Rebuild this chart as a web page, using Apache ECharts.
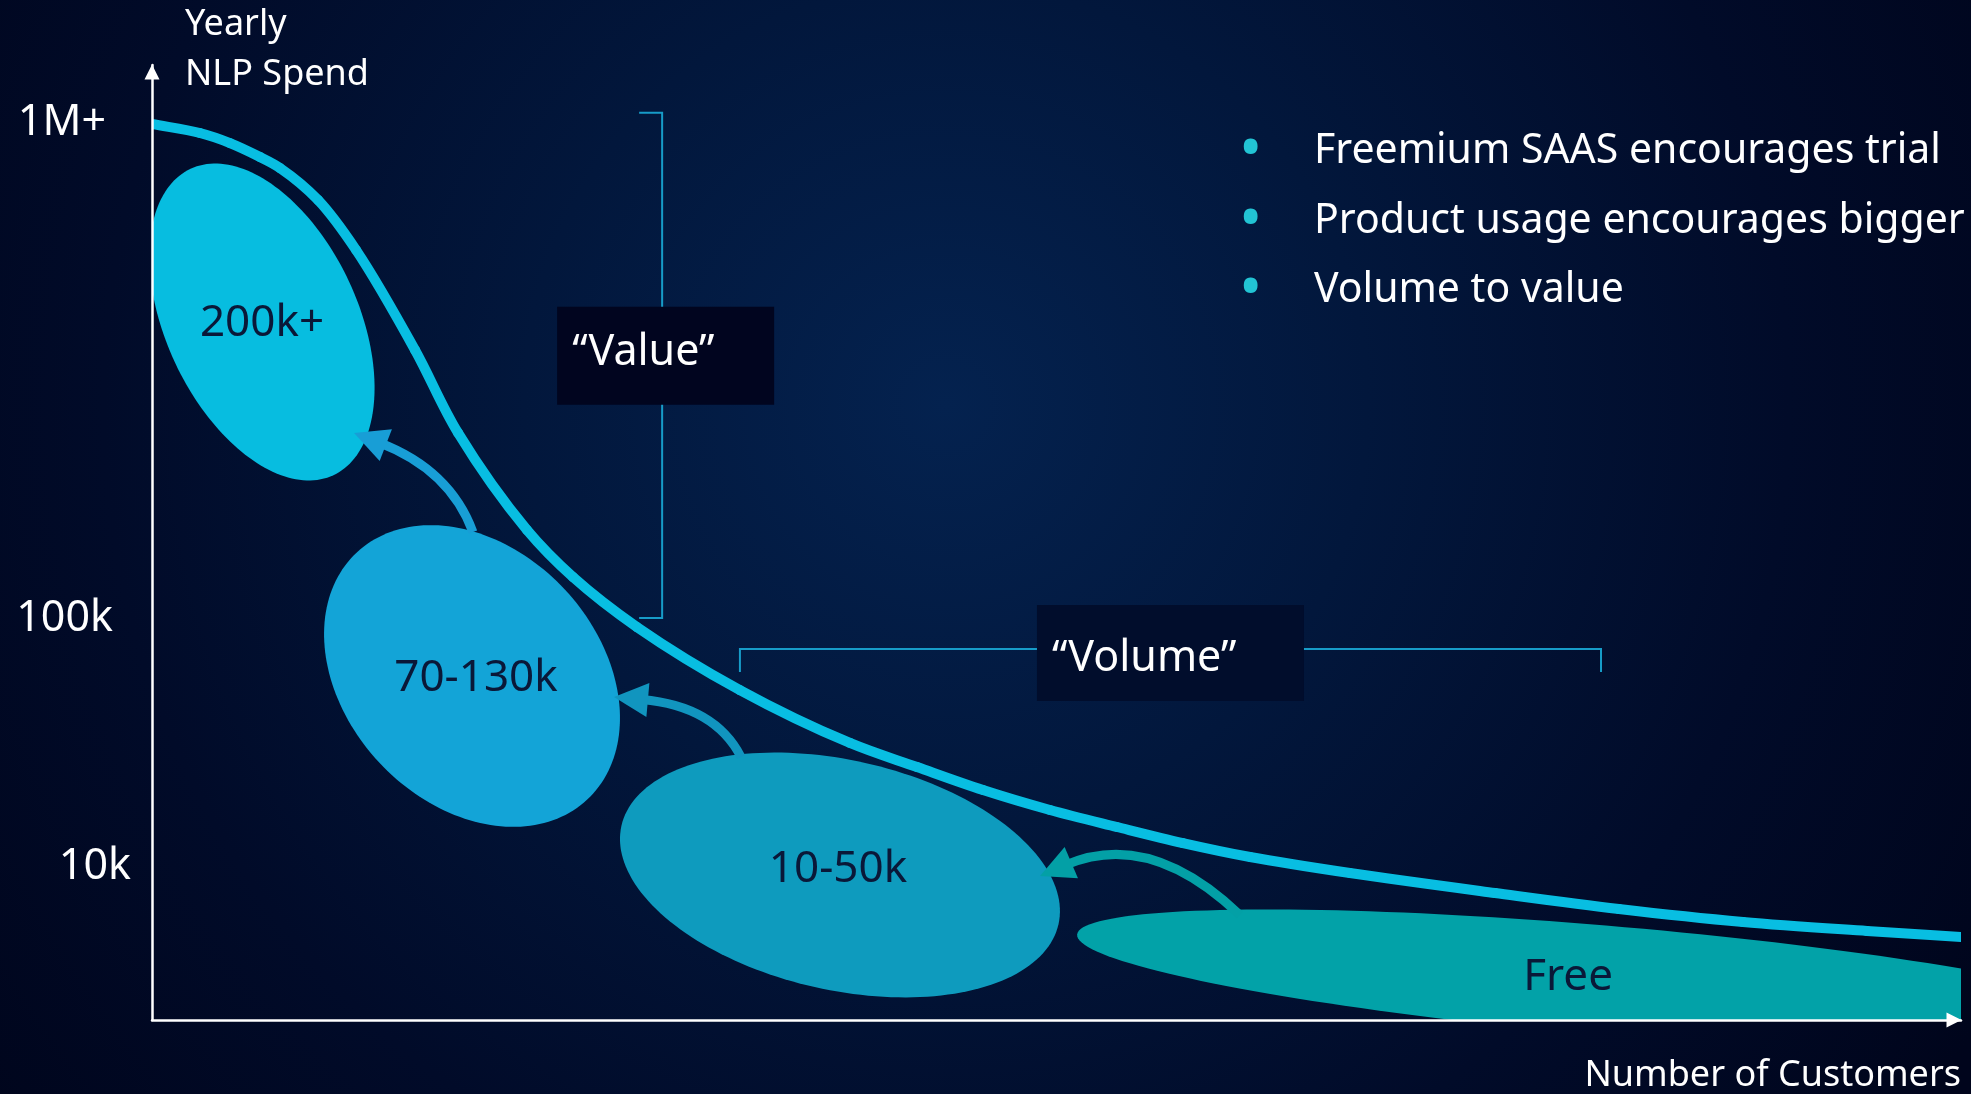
<!DOCTYPE html>
<html>
<head>
<meta charset="utf-8">
<script src="https://cdn.jsdelivr.net/npm/echarts@6/dist/echarts.min.js"></script>
<style>
html,body{margin:0;padding:0;background:#000a24;overflow:hidden;}
#c{width:1971px;height:1094px;}
</style>
</head>
<body>
<div id="c"></div>
<script>
// ---------------- data ----------------
// y axis: relative position units; labelled ticks
const yTickValues = [16, 42, 94];
const yTickLabels = ['10k', '100k', '1M+'];

// spend curve (x = number of customers, y = yearly spend position)
const curveX = [0, 2.65, 4.31, 5.97, 7.08, 9.18, 11.28, 14.54, 16.92, 20.73, 23.27, 26.81, 32.50, 38.58, 42.29, 45.94, 49.64, 53.34, 56.99, 60.70, 66.22, 74.24, 81.09, 87.95, 94.80, 100];
const curveY = [93.82, 92.88, 91.83, 90.37, 89.21, 85.86, 80.63, 70.16, 61.47, 51.31, 46.39, 41.15, 34.55, 29.01, 26.49, 24.08, 21.99, 20.21, 18.53, 17.07, 15.39, 13.30, 11.62, 10.26, 9.32, 8.69];

// customer segments (ellipses): ends of the long axis, width ratio, label anchor
const segmentNames = ['200k+', '70-130k', '10-50k', 'Free'];
const segStartX = [2.13, 11.32, 25.95, 51.14];
const segStartY = [89.13, 48.96, 20.34, 8.95];
const segEndX = [10.03, 24.06, 50.11, 111.16];
const segEndY = [57.05, 23.08, 10.03, -0.99];
const segWidthRatio = [0.568, 0.751, 0.513, 0.101];
const segLabelX = [6.08, 17.91, 37.92, 78.28];
const segLabelY = [72.98, 35.81, 15.81, 4.50];

// upgrade arrows: from -> via (control) -> to
const arrowFromX = [17.74, 32.56, 60.14];
const arrowFromY = [51.10, 27.54, 10.99];
const arrowViaX = [16.47, 31.12, 55.17];
const arrowViaY = [57.59, 32.88, 20.00];
const arrowToX = [11.17, 25.54, 49.09];
const arrowToY = [61.47, 33.82, 15.08];

// brackets
const bracketNames = ['\u201CValue\u201D', '\u201CVolume\u201D'];
const bracketX1 = [28.2, 32.5];
const bracketY1 = [95.0, 38.85];
const bracketX2 = [28.2, 80.1];
const bracketY2 = [42.1, 38.85];

// bullet notes
const bullets = ['Freemium SAAS encourages trial', 'Product usage encourages bigger spend', 'Volume to value'];

// ---------------- styles ----------------
const FONT = '"Noto Sans", "Open Sans", sans-serif';
const curveColor = '#08BEE2';
const segColors = ['#07BDE0', '#13A4D7', '#0E9BBE', '#02A2A8'];
const arrowColors = ['#189ED6', '#1195BF', '#03A0A6'];
const bracketBox = [[217, 98], [267, 96]];
const bracketBoxShift = [[3.5, -9.5], [0, 4]];
const bracketTextShift = [-3.5, 6];
const bracketBoxColors = ['#01051f', '#010d2c'];
const tickRich = {
  t: { padding: [0, 0, 0, 0] },
  h: { padding: [0, 18, 0, 0] },
  m: { padding: [0, 25, 0, 0] }
};
const tickKeys = ['t', 'h', 'm'];

const chart = echarts.init(document.getElementById('c'), null, { renderer: 'canvas' });

// centripetal Catmull-Rom segment (in pixel space) between points i and i+1
function curveSegment(api, i) {
  const n = curveX.length;
  const P = k => api.coord([curveX[k], curveY[k]]);
  const p1 = P(i), p2 = P(i + 1);
  const p0 = i > 0 ? P(i - 1) : [2 * p1[0] - p2[0], 2 * p1[1] - p2[1]];
  const p3 = i < n - 2 ? P(i + 2) : [2 * p2[0] - p1[0], 2 * p2[1] - p1[1]];
  const d1 = Math.sqrt(Math.hypot(p1[0] - p0[0], p1[1] - p0[1]));
  const d2 = Math.sqrt(Math.hypot(p2[0] - p1[0], p2[1] - p1[1]));
  const d3 = Math.sqrt(Math.hypot(p3[0] - p2[0], p3[1] - p2[1]));
  const b1 = [0, 1].map(j => (d1 * d1 * p2[j] - d2 * d2 * p0[j] + (2 * d1 * d1 + 3 * d1 * d2 + d2 * d2) * p1[j]) / (3 * d1 * (d1 + d2)));
  const b2 = [0, 1].map(j => (d3 * d3 * p1[j] - d2 * d2 * p3[j] + (2 * d3 * d3 + 3 * d3 * d2 + d2 * d2) * p2[j]) / (3 * d3 * (d3 + d2)));
  return { x1: p1[0], y1: p1[1], cpx1: b1[0], cpy1: b1[1], cpx2: b2[0], cpy2: b2[1], x2: p2[0], y2: p2[1] };
}

const option = {
  backgroundColor: {
    type: 'radial', x: 0.48, y: 0.37, r: 1.1,
    colorStops: [
      { offset: 0, color: '#04224f' },
      { offset: 0.35, color: '#02173c' },
      { offset: 0.7, color: '#010b29' },
      { offset: 1, color: '#00051c' }
    ]
  },
  animation: false,
  textStyle: { fontFamily: FONT },
  title: [
    {
      text: 'Yearly\nNLP Spend', left: 185, top: 0, padding: 0, textAlign: 'left',
      textStyle: { color: '#ffffff', fontSize: 36, fontWeight: 'normal', fontFamily: FONT, lineHeight: 50 }
    },
    {
      text: 'Number of Customers', right: 10, top: 1054, padding: 0,
      textStyle: { color: '#ffffff', fontSize: 36, fontWeight: 'normal', fontFamily: FONT, lineHeight: 44 }
    },
    {
      text: bullets.map(b => '{d|\u2022}{t|' + b + '}').join('\n'),
      left: 1239, top: 117, padding: 0, textAlign: 'left',
      textStyle: {
        fontFamily: FONT, fontWeight: 'normal', align: 'left',
        rich: {
          d: { color: '#22C4D4', fontSize: 62, width: 75, align: 'left', lineHeight: 69.5, fontFamily: FONT },
          t: { color: '#ffffff', fontSize: 41, lineHeight: 69.5, align: 'left', fontFamily: FONT }
        }
      }
    }
  ],
  grid: { left: 152, right: 10, top: 65, bottom: 74, containLabel: false, outerBoundsMode: 'none' },
  xAxis: {
    type: 'value', min: 0, max: 100, z: 10,
    axisLine: { show: true, onZero: false, lineStyle: { color: '#ffffff', width: 2.5 }, symbol: ['none', 'triangle'], symbolSize: [15, 15], symbolOffset: [0, -7] },
    axisTick: { show: false }, axisLabel: { show: false }, splitLine: { show: false }
  },
  yAxis: {
    type: 'value', min: 0, max: 100, interval: 2, z: 10,
    axisLine: { show: true, onZero: false, lineStyle: { color: '#ffffff', width: 2.5 }, symbol: ['none', 'triangle'], symbolSize: [15, 15], symbolOffset: [0, -7] },
    axisTick: { show: false }, splitLine: { show: false },
    axisLabel: {
      show: true, margin: 21, color: '#ffffff', fontSize: 43, fontFamily: FONT,
      formatter: function (v) {
        const k = yTickValues.indexOf(Math.round(v * 1000) / 1000);
        if (k < 0) return '';
        return '{' + tickKeys[k] + '|' + yTickLabels[k] + '}';
      },
      rich: tickRich
    }
  },
  series: [
    {
      type: 'custom', name: 'segments', z: 2, clip: true,
      data: segmentNames.map((n, i) => [segStartX[i], segStartY[i], segEndX[i], segEndY[i], segWidthRatio[i], segLabelX[i], segLabelY[i]]),
      encode: { x: [0, 2], y: [1, 3] },
      renderItem: function (params, api) {
        const i = params.dataIndex;
        const p1 = api.coord([api.value(0), api.value(1)]);
        const p2 = api.coord([api.value(2), api.value(3)]);
        const cx = (p1[0] + p2[0]) / 2, cy = (p1[1] + p2[1]) / 2;
        const dx = (p2[0] - p1[0]) / 2, dy = (p2[1] - p1[1]) / 2;
        const r = api.value(4);
        const vx = -dy * r, vy = dx * r;
        const pts = [];
        const N = 180;
        for (let k = 0; k < N; k++) {
          const t = k / N * Math.PI * 2;
          pts.push([cx + dx * Math.cos(t) + vx * Math.sin(t), cy + dy * Math.cos(t) + vy * Math.sin(t)]);
        }
        const lp = api.coord([api.value(5), api.value(6)]);
        return {
          type: 'group',
          children: [
            { type: 'polygon', shape: { points: pts }, style: { fill: segColors[i] } },
            { type: 'text', x: lp[0], y: lp[1], style: { text: segmentNames[i], fill: '#0A1838', fontSize: 44, fontFamily: FONT, align: 'center', verticalAlign: 'middle' } }
          ]
        };
      }
    },
    {
      type: 'custom', name: 'spend curve', z: 3, clip: true,
      data: curveX.map((x, i) => [x, curveY[i]]),
      encode: { x: 0, y: 1 },
      renderItem: function (params, api) {
        const i = params.dataIndex;
        if (i >= curveX.length - 1) return null;
        return {
          type: 'bezierCurve',
          shape: curveSegment(api, i),
          style: { stroke: curveColor, lineWidth: 10, fill: 'none', lineCap: 'round' }
        };
      }
    },
    {
      type: 'custom', name: 'arrows', z: 4, clip: false,
      data: arrowFromX.map((x, i) => [x, arrowFromY[i], arrowViaX[i], arrowViaY[i], arrowToX[i], arrowToY[i]]),
      encode: { x: [0, 2, 4], y: [1, 3, 5] },
      renderItem: function (params, api) {
        const i = params.dataIndex;
        const p0 = api.coord([api.value(0), api.value(1)]);
        const c = api.coord([api.value(2), api.value(3)]);
        const tip = api.coord([api.value(4), api.value(5)]);
        let ux = tip[0] - c[0], uy = tip[1] - c[1];
        const L = Math.hypot(ux, uy); ux /= L; uy /= L;
        const headLen = 34, headHalf = 17;
        const base = [tip[0] - ux * headLen, tip[1] - uy * headLen];
        const stemEnd = [tip[0] - ux * (headLen - 6), tip[1] - uy * (headLen - 6)];
        const col = arrowColors[i];
        return {
          type: 'group',
          children: [
            { type: 'bezierCurve', shape: { x1: p0[0], y1: p0[1], cpx1: c[0], cpy1: c[1], x2: stemEnd[0], y2: stemEnd[1] }, style: { stroke: col, lineWidth: 9, fill: 'none' } },
            { type: 'polygon', shape: { points: [tip, [base[0] - uy * headHalf, base[1] + ux * headHalf], [base[0] + uy * headHalf, base[1] - ux * headHalf]] }, style: { fill: col } }
          ]
        };
      }
    },
    {
      type: 'custom', name: 'brackets', z: 5, clip: false,
      data: bracketNames.map((n, i) => [bracketX1[i], bracketY1[i], bracketX2[i], bracketY2[i]]),
      encode: { x: [0, 2], y: [1, 3] },
      renderItem: function (params, api) {
        const i = params.dataIndex;
        const p1 = api.coord([api.value(0), api.value(1)]);
        const p2 = api.coord([api.value(2), api.value(3)]);
        let dx = p2[0] - p1[0], dy = p2[1] - p1[1];
        const L = Math.hypot(dx, dy); dx /= L; dy /= L;
        const nx = -dy, ny = dx;
        const hook = 23;
        const mx = (p1[0] + p2[0]) / 2 + bracketBoxShift[i][0];
        const my = (p1[1] + p2[1]) / 2 + bracketBoxShift[i][1];
        const bw = bracketBox[i][0], bh = bracketBox[i][1];
        return {
          type: 'group',
          children: [
            { type: 'polyline', shape: { points: [[p1[0] + nx * hook, p1[1] + ny * hook], p1, p2, [p2[0] + nx * hook, p2[1] + ny * hook]] }, style: { stroke: '#179cc8', lineWidth: 2, fill: 'none' } },
            { type: 'rect', shape: { x: mx - bw / 2, y: my - bh / 2, width: bw, height: bh }, style: { fill: bracketBoxColors[i] } },
            { type: 'text', x: mx - bw / 2 + 15, y: my + bracketTextShift[i], style: { text: bracketNames[i], fill: '#ffffff', fontSize: 43, fontFamily: FONT, align: 'left', verticalAlign: 'middle' } }
          ]
        };
      }
    }
  ]
};

chart.setOption(option);
</script>
</body>
</html>
